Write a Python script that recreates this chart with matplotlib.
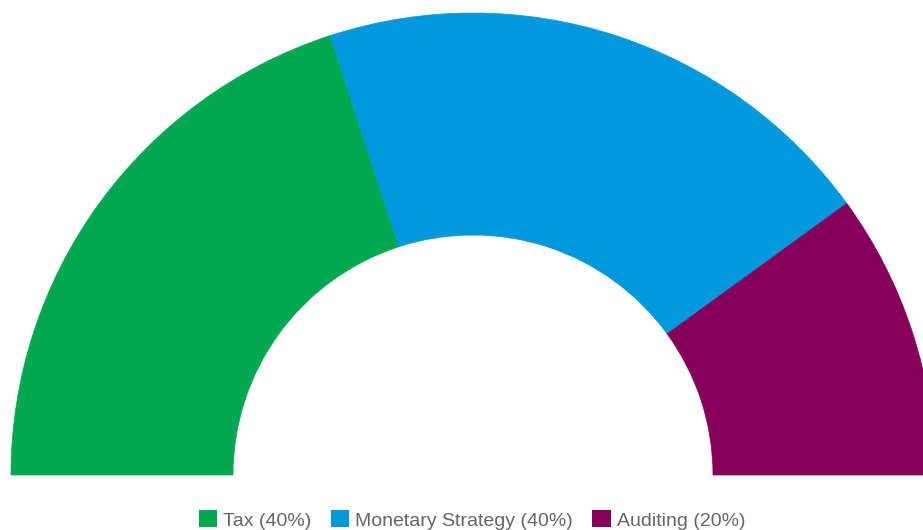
import matplotlib
matplotlib.use("Agg")
import matplotlib.pyplot as plt
from matplotlib.patches import Wedge, Patch

categories = ["Tax", "Monetary Strategy", "Auditing"]
values = [40, 40, 20]
colors = ["#00A84F", "#0099DD", "#86005A"]

W, H = 923, 530
fig = plt.figure(figsize=(W / 100, H / 100), dpi=100)
ax = fig.add_axes([0, 0, 1, 1])
ax.set_xlim(0, W)
ax.set_ylim(0, H)
ax.axis("off")

cx, cy = 473, H - 475
R, r = 462, 240
total = sum(values)
start = 180.0
for v, c in zip(values, colors):
    sweep = 180.0 * v / total
    ax.add_patch(Wedge((cx, cy), R, start - sweep, start, width=R - r,
                       facecolor=c, edgecolor=c, linewidth=0.5))
    start -= sweep

handles = [Patch(facecolor=c, edgecolor="none") for c in colors]
labels = [f"{n} ({v}%)" for n, v in zip(categories, values)]
leg = fig.legend(handles, labels, loc="center", bbox_to_anchor=(472 / W, (H - 520) / H),
                 ncol=3, frameon=False, handlelength=0.95, handleheight=0.95,
                 handletextpad=0.3, columnspacing=1.0, borderpad=0,
                 prop={"family": "Liberation Sans", "size": 14})
for t in leg.get_texts():
    t.set_color("#666666")

fig.savefig("out.png", dpi=100)
